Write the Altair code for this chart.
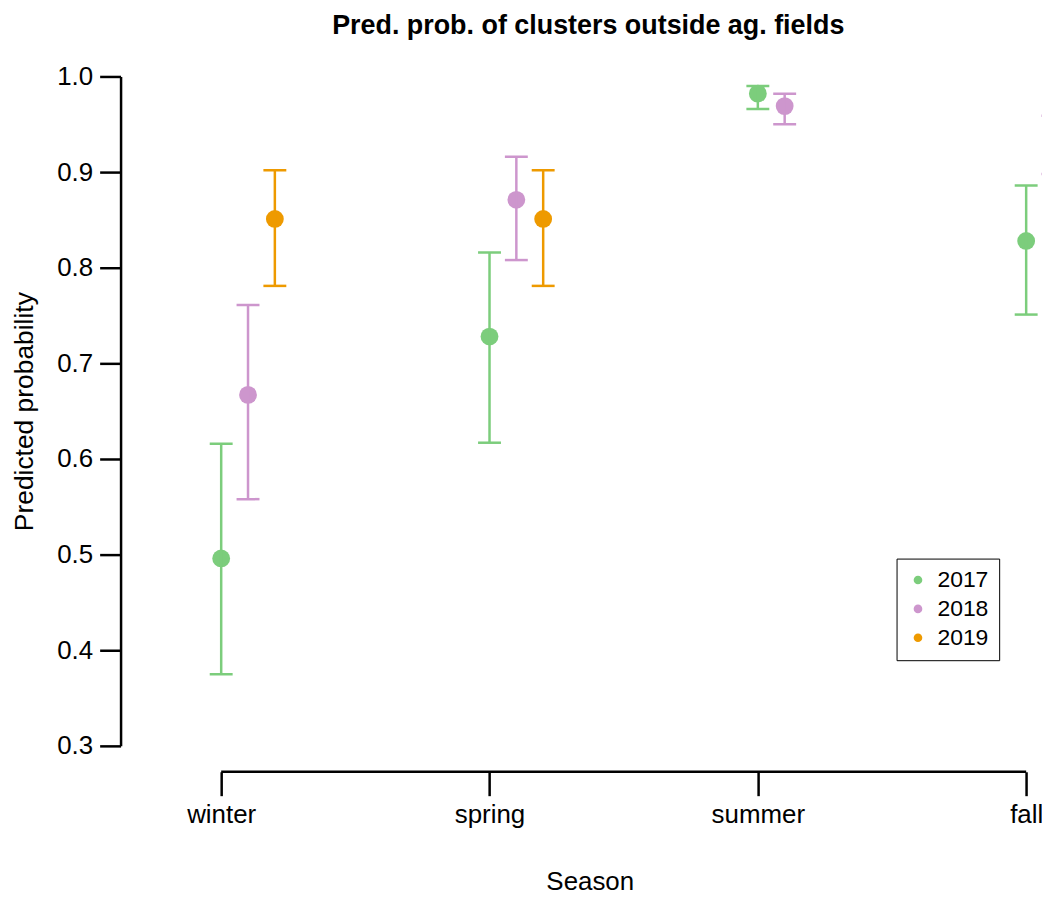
import altair as alt
import pandas as pd

seasons = ["winter", "spring", "summer", "fall"]
years = ["2017", "2018", "2019"]
colors = ["#7CCD7C", "#CD96CD", "#EE9A00"]

pred_2017 = [0.496, 0.728, 0.982, 0.828]
lo_2017 = [0.375, 0.617, 0.966, 0.751]
hi_2017 = [0.616, 0.816, 0.990, 0.886]

pred_2018 = [0.667, 0.871, 0.969, 0.934]
lo_2018 = [0.558, 0.808, 0.950, 0.898]
hi_2018 = [0.761, 0.916, 0.982, 0.959]

pred_2019 = [0.851, 0.851, None, None]
lo_2019 = [0.781, 0.781, None, None]
hi_2019 = [0.902, 0.902, None, None]

y_ticks = [0.3, 0.4, 0.5, 0.6, 0.7, 0.8, 0.9, 1.0]

series = {
    "2017": (pred_2017, lo_2017, hi_2017),
    "2018": (pred_2018, lo_2018, hi_2018),
    "2019": (pred_2019, lo_2019, hi_2019),
}
rows = []
for k, yr in enumerate(years):
    p, lo, hi = series[yr]
    for i, s in enumerate(seasons):
        if p[i] is None:
            continue
        rows.append({"season": s, "year": yr, "xpos": i + 1 + 0.1 * k,
                     "pred": p[i], "lo": lo[i], "hi": hi[i]})
df = pd.DataFrame(rows)

axis_df = pd.DataFrame({"x1": [1], "x2": [len(seasons)]})

FONT = "Liberation Sans"
xscale = alt.Scale(domain=[0.625, 4.059], nice=False, zero=False)
yscale = alt.Scale(domain=[0.3, 1.0], nice=False, zero=False)
cscale = alt.Scale(domain=years, range=colors)

color_leg = alt.Color("year:N", scale=cscale,
                      legend=alt.Legend(title=None, orient="none", legendX=779, legendY=484,
                                        strokeColor="black", padding=10, rowPadding=5,
                                        symbolType="circle", symbolSize=75,
                                        labelFontSize=23, labelFont=FONT,
                                        labelColor="black", labelOffset=8,
                                        symbolStrokeWidth=0, fillColor="white"))
color_noleg = alt.Color("year:N", scale=cscale, legend=None)

label_expr = "[" + ",".join("'" + s + "'" for s in seasons) + "][datum.value - 1]"

x_enc = alt.X("xpos:Q", scale=xscale,
              axis=alt.Axis(values=[1, 2, 3, 4], labelExpr=label_expr, domain=False,
                            offset=26, tickSize=24, tickWidth=2.5, tickColor="black",
                            labelPadding=6, labelFontSize=26, labelFont=FONT,
                            labelColor="black", grid=False,
                            title="Season", titleFontSize=26, titleFont=FONT,
                            titleFontWeight="normal", titleColor="black",
                            titleX=471, titleY=118, titleBaseline="alphabetic",
                            titleAlign="center"))
y_enc = alt.Y("pred:Q", scale=yscale,
              axis=alt.Axis(values=y_ticks, format=".1f", domain=True, domainColor="black",
                            domainWidth=2.5, tickSize=21, tickWidth=2.5, tickColor="black",
                            labelPadding=7, labelFontSize=26, labelFont=FONT,
                            labelColor="black", grid=False,
                            title="Predicted probability", titleFontSize=26.5, titleFont=FONT,
                            titleFontWeight="normal", titleColor="black",
                            titleX=-88, titleY=336, titleAngle=-90,
                            titleBaseline="alphabetic", titleAlign="center"))

bars = alt.Chart(df).mark_rule(strokeWidth=2.5, clip=True).encode(
    x=alt.X("xpos:Q", scale=xscale), y=alt.Y("lo:Q", scale=yscale), y2="hi:Q",
    color=color_noleg)
caps_lo = alt.Chart(df).mark_tick(orient="horizontal", size=23, thickness=2.5,
                                  opacity=1, clip=True).encode(
    x=alt.X("xpos:Q", scale=xscale), y=alt.Y("lo:Q", scale=yscale), color=color_noleg)
caps_hi = alt.Chart(df).mark_tick(orient="horizontal", size=23, thickness=2.5,
                                  opacity=1, clip=True).encode(
    x=alt.X("xpos:Q", scale=xscale), y=alt.Y("hi:Q", scale=yscale), color=color_noleg)
points = alt.Chart(df).mark_circle(size=320, opacity=1, clip=True).encode(
    x=x_enc, y=y_enc, color=color_leg)

xaxis_line = alt.Chart(axis_df).mark_rule(strokeWidth=2.5, color="black").encode(
    x=alt.X("x1:Q", scale=xscale), x2="x2:Q", y=alt.value(698))

chart = alt.layer(points, bars, caps_lo, caps_hi, xaxis_line).properties(
    width=925, height=672,
    autosize=alt.AutoSizeParams(type="none"),
    padding={"left": 113, "top": 67, "right": 0, "bottom": 152},
    title=alt.TitleParams("Pred. prob. of clusters outside ag. fields",
                          font=FONT, fontSize=27, fontWeight="bold", color="black",
                          anchor="middle", frame="group", offset=3,
                          baseline="alphabetic", dx=7),
).configure_view(stroke=None)

chart.save("out.html", embed_options={"renderer": "svg", "actions": False})
